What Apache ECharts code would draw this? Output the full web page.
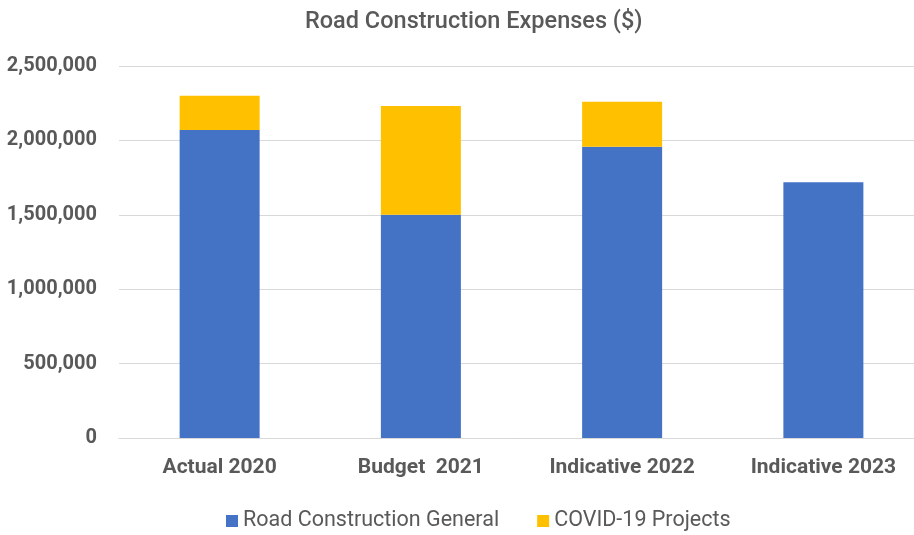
<!DOCTYPE html>
<html>
<head>
<meta charset="utf-8">
<script src="https://cdn.jsdelivr.net/npm/echarts@6/dist/echarts.min.js"></script>
<style>
  html, body { margin: 0; padding: 0; background: #fff; }
  #main { width: 914px; height: 535px; }
</style>
</head>
<body>
<div id="main"></div>
<script>
var categories = ['Actual 2020', 'Budget  2021', 'Indicative 2022', 'Indicative 2023'];
var generalData = [2070000, 1500000, 1957000, 1718000];
var covidData = [230000, 732000, 302000, '-'];
var seriesNames = ['Road Construction General', 'COVID-19 Projects'];

var fontName = '"Liberation Sans Narrow", "Arial Narrow", Roboto, sans-serif';
var textColor = '#595959';

var option = {
    animation: false,
    backgroundColor: '#fff',
    title: {
        text: 'Road Construction Expenses ($)',
        left: 300,
        top: 5,
        textStyle: {
            fontFamily: fontName,
            fontSize: 23.5,
            fontWeight: 500,
            color: textColor
        }
    },
    legend: {
        data: seriesNames,
        top: 505,
        left: 221,
        itemWidth: 12,
        itemHeight: 12,
        itemGap: 38,
        icon: 'rect',
        textStyle: {
            fontFamily: fontName,
            fontSize: 21.5,
            color: textColor
        }
    },
    grid: {
        left: 119,
        width: 805,
        top: 66,
        bottom: 97,
        outerBoundsMode: 'none'
    },
    xAxis: {
        type: 'category',
        data: categories,
        axisLine: { lineStyle: { color: '#d9d9d9', width: 1 } },
        axisTick: { show: false },
        axisLabel: {
            fontFamily: fontName,
            fontSize: 21,
            fontWeight: 'bold',
            color: textColor,
            margin: 19
        }
    },
    yAxis: {
        type: 'value',
        min: 0,
        max: 2500000,
        interval: 500000,
        axisLine: { show: false },
        axisTick: { show: false },
        splitLine: { lineStyle: { color: '#d9d9d9', width: 1 } },
        axisLabel: {
            fontFamily: fontName,
            fontSize: 20,
            fontWeight: 'bold',
            color: textColor,
            margin: 22,
            formatter: function (v) {
                return v.toLocaleString('en-US');
            }
        }
    },
    series: [
        {
            name: seriesNames[0],
            type: 'bar',
            stack: 'total',
            barWidth: 80,
            itemStyle: { color: '#4472c4' },
            data: generalData
        },
        {
            name: seriesNames[1],
            type: 'bar',
            stack: 'total',
            barWidth: 80,
            itemStyle: { color: '#ffc000' },
            data: covidData
        }
    ]
};

var myChart = echarts.init(document.getElementById('main'));
myChart.setOption(option);
</script>
</body>
</html>
